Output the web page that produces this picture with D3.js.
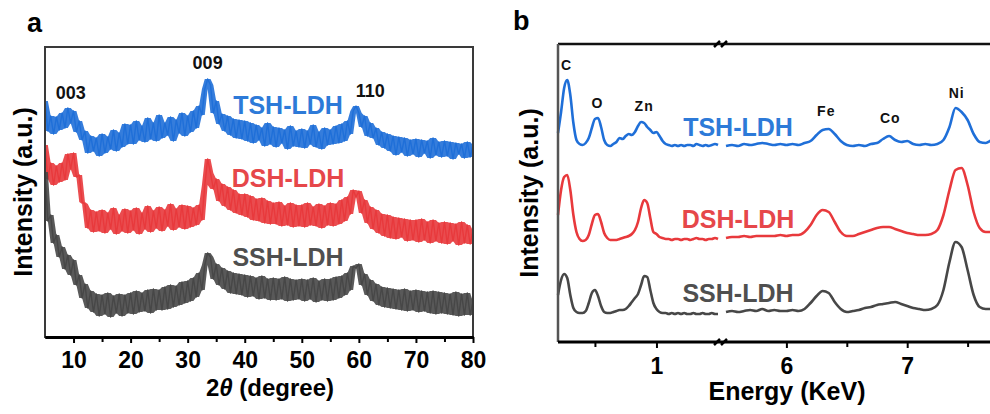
<!DOCTYPE html>
<html>
<head>
<meta charset="utf-8">
<script src="https://cdnjs.cloudflare.com/ajax/libs/d3/7.8.5/d3.min.js"></script>
<style>
  body { margin: 0; background: #fff; }
  text { font-family: "Liberation Sans", Arial, sans-serif; font-weight: bold; }
</style>
</head>
<body>
<div id="container"></div>
<script>
// ---- panel a: XRD, sampled every 0.5 degree from 5 to 80
var xrdAngles = d3.range(5, 80.25, 0.5);
var xrdTSH = [236,206,221,203,220,207,224,209,229,214,
  226,205,216,197,206,184,201,186,199,181,
  203,184,200,188,207,186,204,190,213,193,
  212,193,216,197,211,195,219,198,214,196,
  222,199,214,202,220,196,217,204,224,201,
  221,205,226,209,231,222,248,258,252,224,
  236,213,223,206,221,202,218,199,217,198,
  216,196,214,194,212,197,209,191,214,193,
  210,190,209,194,207,188,211,191,206,190,
  208,189,206,193,212,190,205,188,209,192,
  207,193,211,194,213,196,216,203,226,231,
  224,210,221,201,214,199,209,192,205,189,
  203,186,201,182,200,185,199,181,197,183,
  198,180,197,184,196,179,199,182,195,180,
  196,181,195,178,194,183,193,179,195,180,
  192];
var xrdDSH = [192,158,174,152,171,155,174,157,183,168,
  184,160,162,135,133,109,127,105,125,106,
  127,104,124,108,129,103,122,106,128,104,
  126,107,129,103,124,108,131,105,126,109,
  130,106,127,111,133,107,128,110,132,108,
  131,110,129,112,132,117,152,178,164,148,
  158,136,153,131,150,127,147,124,143,122,
  143,120,141,117,138,116,139,114,136,113,
  134,113,135,111,131,112,134,110,132,111,
  132,110,134,112,130,111,133,109,131,112,
  134,111,133,113,137,116,140,123,147,140,
  146,124,137,114,130,108,127,104,123,101,
  122,99,120,98,119,100,118,96,117,97,
  117,95,118,97,115,94,117,96,114,94,
  115,93,114,96,113,92,115,94,112,93,
  106];
var xrdSSH = [165,116,122,94,102,80,90,68,82,62,
  77,52,62,39,53,29,46,25,43,21,
  42,23,44,20,41,24,43,21,42,24,
  44,23,46,25,44,26,47,24,48,27,
  47,27,50,28,52,30,51,32,55,34,
  56,36,59,40,64,47,72,84,80,58,
  73,52,69,48,66,44,64,43,63,42,
  62,40,61,41,59,38,61,39,58,37,
  59,37,58,38,60,36,58,37,57,38,
  58,36,57,38,59,35,56,37,58,36,
  58,37,60,39,61,42,64,47,71,69,
  73,52,63,42,57,36,53,32,50,30,
  49,29,48,28,47,27,48,26,46,27,
  47,25,46,26,45,24,46,23,45,24,
  44,23,43,22,45,21,43,22,44,22,
  35];
var xrdMajor = [10, 20, 30, 40, 50, 60, 70, 80];
var xrdMinor = [15, 25, 35, 45, 55, 65, 75];
var xrdPeaks = [{label: "003", x: 9.5, v: 238}, {label: "009", x: 33.5, v: 268}, {label: "110", x: 62, v: 240}];

// ---- panel b: EDS, broken energy axis
var edsLowE = d3.range(0.2, 1.5001, 0.025);
var edsHighE = d3.range(5.5, 8.0001, 0.05);
var edsTSHLow = [209,230,254,262,247,219,202,198,197,199,204,214,223,224,215,202,197,196,198,200,
  204,203,206,208,207,210,216,220,219,215,212,209,210,206,201,198,197,196,197,196,197,
  196,197,197,196,198,197,196,197,196,197,198,197];
var edsDSHLow = [127,152,165,167,152,127,110,103,101,102,107,118,127,128,120,109,104,102,102,102,
  103,104,105,106,108,112,120,134,142,139,124,110,108,105,104,103,103,102,103,103,102,
  103,103,102,103,104,103,103,102,103,103,104,103];
var edsSSHLow = [47,62,68,64,47,34,30,29,29,31,39,49,52,46,36,30,29,29,30,31,
  32,32,33,36,40,44,48,57,66,65,52,39,33,30,29,29,28,29,28,29,28,
  29,28,28,29,28,28,29,28,28,29,28,28];
var edsTSHHigh = [196,197,196,198,197,198,199,198,197,198,197,198,197,199,201,207,212,213,208,201,197,
  196,197,196,198,199,203,206,202,200,201,198,197,198,197,198,202,215,234,230,222,
  208,200,199,202,204,202,202,203,202,202];
var edsDSHHigh = [104,105,105,106,105,106,106,106,106,107,106,107,107,110,117,127,132,130,120,110,106,
  106,108,110,112,114,115,115,113,111,109,108,107,107,108,112,127,152,172,174,157,
  130,114,110,110,110,111,110,110,111,110];
var edsSSHHigh = [30,31,30,31,32,31,33,31,32,31,31,32,31,33,39,46,51,49,40,33,30,
  31,32,34,35,37,38,39,40,38,36,34,33,32,33,37,52,80,100,95,72,
  47,35,33,33,33,34,33,33,34,33];
var edsElements = [
  {label: "C", e: 0.27, v: 272}, {label: "O", e: 0.52, v: 234}, {label: "Zn", e: 0.9, v: 231},
  {label: "Fe", e: 6.33, v: 226}, {label: "Co", e: 6.86, v: 219}, {label: "Ni", e: 7.41, v: 244}];
var edsLowTicks = [1], edsLowMinor = [0.5];
var edsHighTicks = [6, 7], edsHighMinor = [6.5, 7.5];

var seriesNames = ["TSH-LDH", "DSH-LDH", "SSH-LDH"];
var lineColors = ["#1f6fd8", "#e8393c", "#474747"];
var labelColors = ["#2d7ad8", "#e6474a", "#4f4f4f"];

var svg = d3.select("#container").append("svg")
  .attr("width", 990).attr("height", 414);

// ================= panel a =================
var xA = d3.scaleLinear().domain([5, 80]).range([45, 473]);
var yA = d3.scaleLinear().domain([0, 290]).range([337, 47]);

svg.append("clipPath").attr("id", "clipA")
  .append("rect").attr("x", 45).attr("y", 47).attr("width", 428).attr("height", 290);

var lineA = d3.line().x(function(d) { return xA(d.a); }).y(function(d) { return yA(d.v); });
// noisy band: fill between local min / max of neighbouring samples, then the trace itself
var bandA = d3.area().x(function(d) { return xA(d.a); })
  .y0(function(d) { return yA(d.lo); }).y1(function(d) { return yA(d.hi); });
[xrdTSH, xrdDSH, xrdSSH].forEach(function(vals, i) {
  var pts = xrdAngles.map(function(a, j) {
    var win = vals.slice(Math.max(0, j - 1), j + 2);
    return {a: a, v: vals[j], lo: d3.min(win), hi: d3.max(win)};
  });
  svg.append("path").datum(pts)
    .attr("clip-path", "url(#clipA)")
    .attr("d", bandA)
    .attr("fill", lineColors[i])
    .attr("opacity", 0.9);
  svg.append("path").datum(pts)
    .attr("clip-path", "url(#clipA)")
    .attr("d", lineA)
    .attr("fill", "none")
    .attr("stroke", lineColors[i])
    .attr("stroke-width", 1.4)
    .attr("stroke-linejoin", "round");
});

// frame
svg.append("rect").attr("x", 45).attr("y", 47).attr("width", 428).attr("height", 290)
  .attr("fill", "none").attr("stroke", "#3a3a3a").attr("stroke-width", 2);

var axA = svg.append("g").attr("transform", "translate(0,337)")
  .call(d3.axisBottom(xA).tickValues(xrdMajor).tickSize(6).tickSizeOuter(0).tickPadding(9));
var axAm = svg.append("g").attr("transform", "translate(0,337)")
  .call(d3.axisBottom(xA).tickValues(xrdMinor).tickSize(5).tickSizeOuter(0).tickFormat(""));
[axA, axAm].forEach(function(g) {
  g.select(".domain").attr("stroke", "#000").attr("stroke-width", 3);
  g.selectAll(".tick line").attr("stroke", "#000").attr("stroke-width", 2);
});
axA.selectAll(".tick text").attr("font-size", 23).attr("fill", "#000")
  .style("font-family", "'Liberation Sans', Arial, sans-serif").style("font-weight", "bold");

var titleA = svg.append("text").attr("x", 270).attr("y", 396).attr("text-anchor", "middle")
  .attr("font-size", 24).attr("fill", "#000");
titleA.append("tspan").text("2");
titleA.append("tspan").attr("font-style", "italic").text("θ");
titleA.append("tspan").text(" (degree)");

svg.append("text").attr("transform", "translate(32,192) rotate(-90)")
  .attr("text-anchor", "middle").attr("font-size", 25).attr("fill", "#000")
  .text("Intensity (a.u.)");

svg.append("text").attr("x", 27).attr("y", 32).attr("font-size", 27).attr("fill", "#000").text("a");

svg.selectAll(".peakA").data(xrdPeaks).enter().append("text")
  .attr("x", function(d) { return xA(d.x); })
  .attr("y", function(d) { return yA(d.v); })
  .attr("text-anchor", "middle").attr("font-size", 18).attr("fill", "#111")
  .text(function(d) { return d.label; });

var labelAy = [114, 187, 266];
seriesNames.forEach(function(n, i) {
  svg.append("text").attr("x", 288).attr("y", labelAy[i]).attr("text-anchor", "middle")
    .attr("font-size", 25).attr("fill", labelColors[i]).text(n);
});

// ================= panel b =================
var xL = d3.scaleLinear().domain([0.2, 1.5]).range([558, 718]);
var xR = d3.scaleLinear().domain([5.5, 8]).range([726, 1028]);
var yB = d3.scaleLinear().domain([0, 298]).range([342, 44]);

[[edsTSHLow, edsTSHHigh], [edsDSHLow, edsDSHHigh], [edsSSHLow, edsSSHHigh]].forEach(function(pair, i) {
  var lo = d3.line().x(function(d) { return xL(d[0]); }).y(function(d) { return yB(d[1]); }).curve(d3.curveMonotoneX);
  var hi = d3.line().x(function(d) { return xR(d[0]); }).y(function(d) { return yB(d[1]); }).curve(d3.curveMonotoneX);
  svg.append("path").datum(edsLowE.map(function(e, j) { return [e, pair[0][j]]; }))
    .attr("d", lo).attr("fill", "none").attr("stroke", lineColors[i]).attr("stroke-width", 2.6);
  svg.append("path").datum(edsHighE.map(function(e, j) { return [e, pair[1][j]]; }))
    .attr("d", hi).attr("fill", "none").attr("stroke", lineColors[i]).attr("stroke-width", 2.6);
});

// frame: top, left, bottom
svg.append("line").attr("x1", 558).attr("x2", 990).attr("y1", 44).attr("y2", 44)
  .attr("stroke", "#111").attr("stroke-width", 2.5);
svg.append("line").attr("x1", 558).attr("x2", 558).attr("y1", 44).attr("y2", 342)
  .attr("stroke", "#555").attr("stroke-width", 2.5);
svg.append("line").attr("x1", 558).attr("x2", 990).attr("y1", 342).attr("y2", 342)
  .attr("stroke", "#000").attr("stroke-width", 3);

function ticksB(scale, major, minor) {
  var g = svg.append("g").attr("transform", "translate(0,342)")
    .call(d3.axisBottom(scale).tickValues(major).tickSize(6).tickSizeOuter(0).tickPadding(10).tickFormat(d3.format("d")));
  var gm = svg.append("g").attr("transform", "translate(0,342)")
    .call(d3.axisBottom(scale).tickValues(minor).tickSize(5).tickSizeOuter(0).tickFormat(""));
  [g, gm].forEach(function(s) {
    s.select(".domain").remove();
    s.selectAll(".tick line").attr("stroke", "#000").attr("stroke-width", 2);
  });
  g.selectAll(".tick text").attr("font-size", 23).attr("fill", "#000")
    .style("font-family", "'Liberation Sans', Arial, sans-serif").style("font-weight", "bold");
}
ticksB(xL, edsLowTicks, edsLowMinor);
ticksB(xR, edsHighTicks, edsHighMinor);

// break marks
[44, 342].forEach(function(yy) {
  [717, 724].forEach(function(xx) {
    svg.append("line").attr("x1", xx - 3).attr("x2", xx + 3).attr("y1", yy + 3).attr("y2", yy - 3)
      .attr("stroke", "#000").attr("stroke-width", 2.5);
  });
});

svg.append("text").attr("x", 787).attr("y", 400).attr("text-anchor", "middle")
  .attr("font-size", 25).attr("fill", "#000").text("Energy (KeV)");

svg.append("text").attr("transform", "translate(538,193) rotate(-90)")
  .attr("text-anchor", "middle").attr("font-size", 25).attr("fill", "#000")
  .text("Intensity (a.u.)");

svg.append("text").attr("x", 513).attr("y", 30).attr("font-size", 27).attr("fill", "#000").text("b");

svg.selectAll(".elB").data(edsElements).enter().append("text")
  .attr("x", function(d) { return d.e < 2 ? xL(d.e) : xR(d.e); })
  .attr("y", function(d) { return yB(d.v); })
  .attr("text-anchor", "middle").attr("font-size", 14).attr("letter-spacing", 1).attr("fill", "#111")
  .text(function(d) { return d.label; });

var labelBy = [136, 228, 302];
seriesNames.forEach(function(n, i) {
  svg.append("text").attr("x", 738).attr("y", labelBy[i]).attr("text-anchor", "middle")
    .attr("font-size", 25).attr("fill", labelColors[i]).text(n);
});
</script>
</body>
</html>
